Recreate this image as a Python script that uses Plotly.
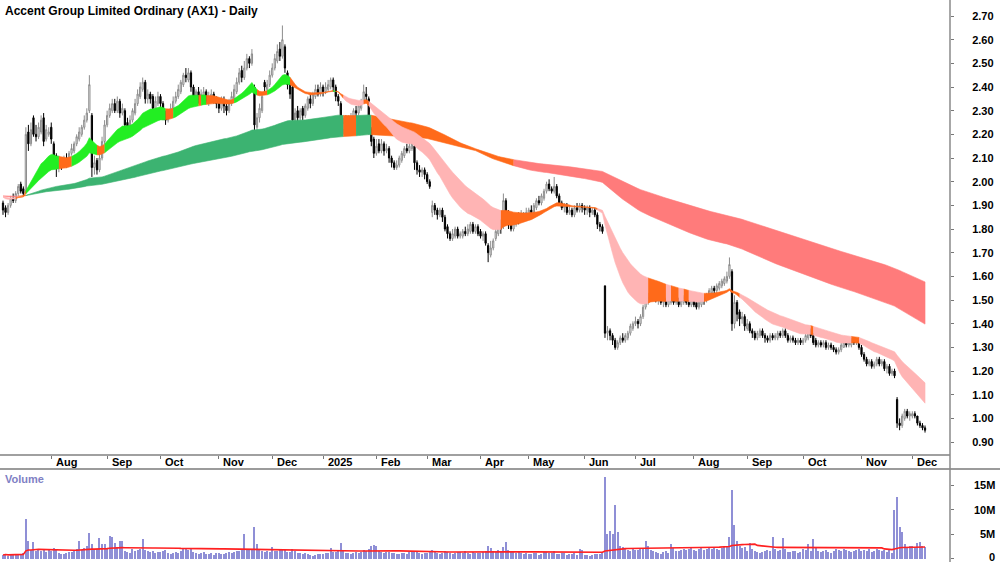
import numpy as np
import pandas as pd
import plotly.graph_objects as go

# ---------------- data ----------------
opens = [
    # Jul 2024
    1.91,1.89,1.87,1.90,1.93,1.92,1.95,1.99,1.97,1.96,2.21,2.16,2.27,2.20,2.19,2.21,2.27,2.18,2.20,
    # Aug 2024
    2.23,2.16,2.11,2.06,2.09,2.07,2.10,2.08,2.12,2.13,2.16,2.18,2.20,2.23,2.26,2.30,2.28,2.06,2.09,2.05,2.10,2.17,
    # Sep 2024
    2.24,2.28,2.30,2.33,2.30,2.34,2.29,2.30,2.25,2.23,2.26,2.29,2.33,2.36,2.39,2.42,2.35,2.37,2.36,2.31,2.33,
    # Oct 2024
    2.36,2.33,2.29,2.26,2.28,2.31,2.34,2.36,2.38,2.41,2.45,2.43,2.46,2.40,2.36,2.38,2.35,2.36,2.38,2.34,2.35,2.37,2.35,
    # Nov 2024
    2.33,2.31,2.34,2.32,2.30,2.33,2.35,2.38,2.42,2.47,2.44,2.48,2.52,2.50,2.40,2.23,2.27,2.30,2.42,2.39,2.41,
    # Dec 2024
    2.45,2.48,2.51,2.56,2.53,2.57,2.46,2.42,2.40,2.26,2.30,2.27,2.31,2.28,2.31,2.35,2.33,2.36,2.39,2.37,
    # Jan 2025
    2.40,2.38,2.39,2.40,2.43,2.40,2.36,2.33,2.22,2.25,2.23,2.25,2.27,2.30,2.29,2.31,2.34,2.37,2.35,2.22,2.18,
    # Feb 2025
    2.12,2.16,2.13,2.16,2.13,2.14,2.10,2.08,2.06,2.07,2.09,2.11,2.14,2.13,2.14,2.15,2.08,2.05,2.04,2.05,
    # Mar 2025
    2.03,2.00,1.87,1.90,1.88,1.86,1.88,1.85,1.81,1.78,1.76,1.77,1.80,1.77,1.77,1.79,1.78,1.79,1.82,1.79,1.81,
    # Apr 2025
    1.79,1.77,1.78,1.73,1.69,1.72,1.76,1.78,1.81,1.81,1.92,1.86,1.85,1.80,1.82,1.85,1.84,1.86,1.85,
    # May 2025
    1.86,1.88,1.87,1.89,1.92,1.91,1.93,1.96,1.99,1.97,1.96,1.98,1.94,1.91,1.89,1.90,1.87,1.88,1.86,1.89,1.88,1.90,
    # Jun 2025
    1.89,1.88,1.89,1.87,1.88,1.86,1.82,1.81,1.56,1.36,1.37,1.35,1.33,1.30,1.32,1.34,1.33,1.34,1.36,1.38,
    # Jul 2025
    1.40,1.41,1.40,1.43,1.47,1.49,1.51,1.55,1.52,1.50,1.51,1.49,1.50,1.48,1.49,1.51,1.49,1.50,1.48,1.49,1.51,1.49,1.48,
    # Aug 2025
    1.50,1.49,1.47,1.48,1.51,1.50,1.51,1.53,1.55,1.54,1.55,1.56,1.57,1.58,1.60,1.62,1.40,1.49,1.45,1.42,1.43,
    # Sep 2025
    1.38,1.40,1.37,1.36,1.34,1.35,1.37,1.35,1.34,1.33,1.35,1.34,1.34,1.36,1.35,1.37,1.35,1.33,1.34,1.33,1.32,1.33,
    # Oct 2025
    1.32,1.33,1.34,1.37,1.35,1.33,1.31,1.32,1.31,1.32,1.30,1.31,1.30,1.29,1.28,1.29,1.30,1.32,1.31,1.31,1.33,1.32,1.33,
    # Nov 2025
    1.30,1.27,1.25,1.23,1.24,1.22,1.23,1.25,1.23,1.24,1.21,1.22,1.19,1.20,1.08,0.98,0.97,1.00,1.03,1.01,
    # Dec 2025
    1.01,1.02,1.01,0.98,0.97,0.96,
]
highs = [
    1.92,1.90,1.91,1.94,1.95,1.96,1.99,2.00,1.98,2.23,2.24,2.25,2.28,2.24,2.25,2.28,2.29,2.24,2.23,
    2.25,2.17,2.12,2.11,2.10,2.11,2.12,2.13,2.16,2.17,2.20,2.23,2.24,2.28,2.31,2.45,2.29,2.11,2.10,2.12,2.19,2.26,
    2.30,2.33,2.35,2.35,2.36,2.35,2.33,2.31,2.27,2.28,2.31,2.35,2.39,2.42,2.44,2.43,2.39,2.38,2.37,2.36,2.38,
    2.37,2.34,2.30,2.30,2.33,2.36,2.38,2.41,2.43,2.46,2.48,2.48,2.47,2.41,2.39,2.40,2.39,2.40,2.39,2.38,2.39,2.38,2.36,
    2.35,2.36,2.36,2.33,2.35,2.38,2.41,2.44,2.48,2.49,2.51,2.54,2.53,2.56,2.41,2.29,2.33,2.37,2.43,2.43,2.47,
    2.50,2.54,2.58,2.59,2.66,2.58,2.47,2.43,2.41,2.31,2.32,2.31,2.32,2.33,2.36,2.37,2.38,2.41,2.41,2.42,
    2.41,2.42,2.43,2.44,2.44,2.41,2.37,2.34,2.27,2.28,2.28,2.29,2.31,2.32,2.33,2.35,2.41,2.40,2.36,2.23,2.19,
    2.18,2.18,2.18,2.17,2.16,2.15,2.11,2.09,2.09,2.11,2.13,2.15,2.16,2.17,2.20,2.16,2.09,2.07,2.06,2.06,
    2.04,2.01,1.92,1.91,1.89,1.89,1.89,1.86,1.82,1.79,1.80,1.81,1.81,1.79,1.80,1.81,1.82,1.83,1.83,1.82,1.82,
    1.80,1.79,1.79,1.74,1.75,1.76,1.80,1.83,1.84,1.95,1.93,1.88,1.86,1.84,1.86,1.87,1.88,1.87,1.89,
    1.89,1.90,1.91,1.93,1.94,1.95,1.97,2.00,2.01,1.98,2.02,1.99,1.95,1.92,1.91,1.91,1.90,1.89,1.90,1.91,1.91,1.91,
    1.90,1.90,1.90,1.89,1.89,1.87,1.83,1.82,1.56,1.39,1.38,1.36,1.34,1.33,1.35,1.36,1.36,1.37,1.40,1.41,
    1.43,1.42,1.44,1.48,1.51,1.53,1.55,1.56,1.53,1.52,1.52,1.51,1.51,1.51,1.52,1.52,1.51,1.51,1.51,1.52,1.52,1.50,1.51,
    1.51,1.50,1.50,1.52,1.52,1.53,1.55,1.56,1.56,1.57,1.58,1.59,1.60,1.62,1.68,1.63,1.52,1.50,1.46,1.45,1.44,
    1.42,1.41,1.38,1.37,1.37,1.38,1.38,1.36,1.35,1.36,1.36,1.36,1.37,1.37,1.38,1.38,1.36,1.35,1.35,1.34,1.34,1.34,
    1.34,1.36,1.38,1.38,1.36,1.34,1.33,1.33,1.33,1.33,1.32,1.32,1.31,1.30,1.30,1.32,1.33,1.33,1.33,1.34,1.34,1.34,1.34,
    1.31,1.28,1.26,1.25,1.25,1.24,1.26,1.26,1.25,1.25,1.23,1.23,1.21,1.21,1.09,1.00,1.02,1.04,1.04,1.03,
    1.03,1.03,1.01,0.99,0.98,0.97,
]
lows = [
    1.86,1.85,1.86,1.89,1.91,1.91,1.94,1.95,1.94,1.95,2.13,2.15,2.19,2.17,2.18,2.20,2.15,2.17,2.19,
    2.16,2.08,2.02,2.04,2.05,2.06,2.06,2.07,2.11,2.12,2.15,2.17,2.19,2.22,2.25,2.29,2.02,2.03,2.03,2.04,2.09,2.16,
    2.23,2.27,2.29,2.29,2.29,2.27,2.28,2.22,2.21,2.22,2.25,2.28,2.32,2.35,2.38,2.33,2.33,2.33,2.30,2.30,2.32,
    2.31,2.26,2.24,2.25,2.27,2.30,2.33,2.35,2.37,2.40,2.42,2.42,2.38,2.34,2.34,2.33,2.34,2.35,2.33,2.32,2.34,2.33,2.31,
    2.29,2.30,2.29,2.28,2.29,2.32,2.34,2.37,2.41,2.42,2.43,2.47,2.48,2.49,2.14,2.20,2.25,2.29,2.38,2.38,2.40,
    2.44,2.47,2.50,2.51,2.52,2.46,2.39,2.35,2.24,2.24,2.25,2.25,2.26,2.27,2.30,2.31,2.32,2.35,2.36,2.36,
    2.36,2.37,2.38,2.39,2.38,2.34,2.32,2.20,2.20,2.20,2.21,2.23,2.25,2.27,2.28,2.30,2.33,2.34,2.20,2.15,2.10,
    2.11,2.12,2.12,2.11,2.12,2.08,2.06,2.05,2.05,2.06,2.08,2.10,2.12,2.12,2.13,2.05,2.03,2.02,2.02,2.01,
    1.99,1.97,1.85,1.86,1.84,1.85,1.83,1.79,1.76,1.75,1.75,1.76,1.76,1.76,1.76,1.77,1.77,1.78,1.78,1.78,1.77,
    1.76,1.75,1.73,1.66,1.68,1.71,1.75,1.77,1.78,1.80,1.82,1.80,1.79,1.79,1.81,1.82,1.83,1.83,1.84,
    1.85,1.86,1.86,1.88,1.90,1.90,1.92,1.95,1.96,1.95,1.95,1.93,1.90,1.88,1.87,1.86,1.86,1.85,1.85,1.87,1.87,1.87,
    1.86,1.86,1.85,1.86,1.85,1.80,1.79,1.78,1.34,1.33,1.33,1.31,1.29,1.29,1.31,1.32,1.32,1.33,1.35,1.37,
    1.39,1.38,1.39,1.42,1.46,1.48,1.50,1.50,1.49,1.48,1.48,1.47,1.47,1.47,1.48,1.48,1.48,1.47,1.47,1.48,1.48,1.47,1.47,
    1.47,1.46,1.46,1.47,1.48,1.49,1.50,1.52,1.52,1.53,1.54,1.55,1.56,1.57,1.59,1.37,1.38,1.41,1.39,1.40,1.37,
    1.37,1.36,1.34,1.33,1.33,1.34,1.34,1.32,1.32,1.32,1.33,1.33,1.33,1.34,1.34,1.34,1.32,1.32,1.32,1.31,1.31,1.31,
    1.31,1.32,1.33,1.34,1.31,1.30,1.30,1.30,1.30,1.29,1.29,1.29,1.28,1.27,1.27,1.28,1.30,1.30,1.30,1.30,1.31,1.31,1.29,
    1.26,1.24,1.22,1.22,1.21,1.21,1.22,1.22,1.22,1.20,1.19,1.18,1.18,1.17,0.96,0.95,0.96,0.99,1.00,0.99,
    1.00,1.00,0.97,0.96,0.95,0.94,
]
closes = [
    1.88,1.87,1.90,1.93,1.92,1.95,1.98,1.96,1.95,2.20,2.16,2.22,2.20,2.19,2.23,2.26,2.17,2.22,2.21,
    2.18,2.10,2.06,2.09,2.07,2.10,2.08,2.12,2.14,2.16,2.19,2.21,2.23,2.26,2.29,2.41,2.06,2.08,2.05,2.10,2.17,2.24,
    2.28,2.31,2.33,2.30,2.34,2.29,2.31,2.24,2.23,2.26,2.30,2.33,2.37,2.40,2.42,2.35,2.37,2.35,2.31,2.34,2.36,
    2.33,2.28,2.26,2.29,2.31,2.34,2.36,2.39,2.42,2.45,2.44,2.46,2.40,2.36,2.38,2.35,2.37,2.38,2.34,2.36,2.37,2.35,2.33,
    2.31,2.34,2.32,2.30,2.33,2.36,2.39,2.42,2.46,2.44,2.48,2.52,2.50,2.54,2.24,2.27,2.31,2.36,2.40,2.41,2.45,
    2.48,2.52,2.55,2.53,2.60,2.48,2.41,2.37,2.26,2.29,2.27,2.30,2.28,2.32,2.35,2.33,2.37,2.39,2.37,2.40,
    2.38,2.40,2.41,2.43,2.40,2.36,2.34,2.22,2.25,2.23,2.26,2.27,2.30,2.29,2.32,2.34,2.38,2.36,2.22,2.17,2.12,
    2.15,2.13,2.16,2.13,2.14,2.10,2.08,2.06,2.07,2.10,2.12,2.14,2.13,2.15,2.16,2.08,2.05,2.04,2.05,2.03,
    2.00,1.98,1.90,1.88,1.86,1.88,1.85,1.80,1.78,1.76,1.78,1.80,1.77,1.78,1.79,1.78,1.80,1.82,1.79,1.81,1.78,
    1.77,1.78,1.74,1.70,1.72,1.75,1.79,1.81,1.80,1.92,1.86,1.84,1.80,1.83,1.85,1.84,1.86,1.85,1.87,
    1.88,1.87,1.90,1.92,1.91,1.94,1.96,1.99,1.97,1.96,1.98,1.94,1.91,1.89,1.90,1.87,1.88,1.86,1.89,1.88,1.90,1.89,
    1.88,1.89,1.87,1.88,1.86,1.82,1.81,1.79,1.36,1.37,1.35,1.33,1.30,1.32,1.34,1.33,1.35,1.36,1.39,1.40,
    1.41,1.40,1.43,1.47,1.50,1.51,1.54,1.51,1.50,1.51,1.49,1.50,1.48,1.50,1.51,1.49,1.50,1.48,1.50,1.51,1.49,1.48,1.50,
    1.48,1.47,1.49,1.51,1.50,1.52,1.54,1.55,1.54,1.56,1.57,1.58,1.59,1.60,1.65,1.40,1.49,1.44,1.42,1.43,1.39,
    1.40,1.37,1.36,1.34,1.36,1.37,1.35,1.34,1.33,1.35,1.34,1.35,1.36,1.35,1.37,1.35,1.33,1.34,1.33,1.32,1.33,1.32,
    1.33,1.35,1.37,1.35,1.32,1.31,1.32,1.31,1.32,1.30,1.31,1.30,1.29,1.28,1.29,1.31,1.32,1.31,1.32,1.33,1.32,1.33,1.30,
    1.27,1.25,1.23,1.24,1.22,1.23,1.25,1.23,1.24,1.21,1.22,1.19,1.20,1.18,0.98,0.97,1.01,1.03,1.01,1.02,
    1.02,1.01,0.98,0.97,0.96,0.95,
]
volume_m = [
    # Jul 2024
    0.7,0.9,0.6,0.8,0.7,1.0,0.8,0.9,1.2,8.0,3.6,1.8,3.3,1.6,2.0,1.5,1.9,1.4,1.7,
    # Aug 2024
    1.5,2.2,1.8,1.2,1.0,0.9,1.1,1.3,1.4,1.6,2.0,3.6,1.8,2.2,2.6,5.3,3.0,2.0,1.9,4.2,2.9,3.0,
    # Sep 2024
    2.0,4.6,4.4,3.2,2.4,3.5,3.6,1.5,1.3,1.2,2.0,1.6,1.8,1.9,4.0,1.8,1.5,1.3,1.6,1.2,1.4,
    # Oct 2024
    1.3,1.5,1.8,1.2,1.0,1.1,1.4,1.2,1.6,2.0,2.1,1.8,1.9,1.4,1.2,1.0,1.1,1.3,0.9,1.0,1.2,0.8,1.1,
    # Nov 2024
    1.2,1.0,0.9,1.1,1.3,1.2,1.4,1.5,1.6,1.8,4.9,1.9,2.0,1.7,6.4,3.0,1.8,1.6,1.4,1.5,1.3,
    # Dec 2024
    2.3,1.6,1.5,1.7,2.0,1.8,1.4,1.3,1.9,1.5,1.2,1.1,1.0,1.2,0.9,0.7,0.6,0.8,0.9,1.0,
    # Jan 2025
    1.0,1.1,1.2,2.2,1.4,1.3,1.5,3.1,1.6,1.2,1.1,1.0,1.2,1.3,1.1,1.4,1.7,1.5,2.0,2.6,2.8,
    # Feb 2025
    2.5,1.5,1.3,1.2,1.4,1.3,1.1,1.2,1.0,0.9,1.1,1.2,1.0,1.4,1.6,1.3,1.5,1.2,1.0,1.1,
    # Mar 2025
    1.2,1.3,1.8,1.4,1.1,1.0,1.2,1.5,1.3,1.1,1.0,1.2,1.4,1.3,1.1,1.5,1.2,1.0,1.3,1.1,1.2,
    # Apr 2025
    1.1,1.3,1.6,2.5,2.2,1.5,1.4,1.7,1.6,2.4,3.4,1.8,1.5,1.4,1.2,1.3,1.1,1.0,1.2,
    # May 2025
    1.0,0.9,1.1,1.2,0.8,1.0,1.3,1.4,1.1,1.2,1.5,1.0,0.9,1.1,1.2,0.8,0.9,1.0,1.1,0.8,1.9,1.7,
    # Jun 2025
    0.8,0.7,0.6,0.8,0.9,1.0,0.9,1.2,16.6,5.0,5.7,5.0,10.9,5.5,2.6,2.3,2.0,1.8,1.6,1.9,
    # Jul 2025
    1.8,1.7,1.9,2.0,3.6,2.5,1.8,1.6,1.4,1.2,1.0,1.3,1.5,1.1,3.0,2.2,1.5,1.6,1.8,2.0,1.7,1.9,2.1,
    # Aug 2025
    1.8,1.6,1.9,2.2,1.7,2.0,2.3,1.9,2.1,2.0,1.8,2.2,2.4,2.6,4.3,14.0,6.8,3.5,2.5,2.2,2.3,
    # Sep 2025
    1.5,3.2,2.0,1.6,1.4,1.2,1.3,1.5,1.8,1.6,4.3,1.9,1.5,1.7,4.2,2.0,1.4,1.3,1.6,1.5,1.2,1.4,
    # Oct 2025
    2.0,1.8,3.0,1.6,4.0,2.2,1.5,1.3,1.6,1.8,1.4,1.2,1.5,1.9,1.7,1.6,2.0,1.8,1.5,1.4,1.6,1.7,2.0,
    # Nov 2025
    1.6,1.8,1.5,1.9,1.4,1.6,2.0,1.7,1.5,1.8,1.3,1.9,1.2,9.8,12.5,6.4,5.4,3.0,2.4,2.6,
    # Dec 2025
    2.5,2.2,3.2,3.4,2.6,2.4,
]
holidays = ["2024-12-25", "2024-12-26", "2025-01-01", "2025-01-27",
            "2025-04-18", "2025-04-21", "2025-04-25", "2025-06-09"]
fast_periods = [20, 24, 28, 32, 36, 40]
slow_periods = [140, 160, 180, 200, 225, 250]
ema_seed = 1.94
slope_lag = 3
volume_ma_window = 60
price_ticks = [round(0.9 + 0.1 * k, 2) for k in range(19)]
volume_ticks = [0, 5, 10, 15]
volume_tick_text = ["0", "5M", "10M", "15M"]

# ---------------- derived ----------------
n = min(len(opens), len(highs), len(lows), len(closes), len(volume_m))
opens, highs, lows, closes = (np.array(a[:n]) for a in (opens, highs, lows, closes))
vol = np.array(volume_m[:n]) * 1e6
idx = np.arange(n)
dates = pd.bdate_range("2024-07-05", periods=n, freq="C", holidays=holidays)

tick_idx, tick_txt = [], []
for i in range(1, n):
    if dates[i].month != dates[i - 1].month:
        tick_idx.append(i)
        tick_txt.append(str(dates[i].year) if dates[i].month == 1 else dates[i].strftime("%b"))


def ema(values, period, seed):
    a = 2.0 / (period + 1)
    out = np.empty(len(values))
    e = seed
    for i, v in enumerate(values):
        e = e + a * (v - e)
        out[i] = e
    return out


def ribbon_traces(periods, colors):
    g = np.array([ema(closes, p, ema_seed) for p in periods])
    up = g.max(axis=0)
    lo = g.min(axis=0)
    d = np.diff(g, axis=0)
    prev = np.concatenate([np.full((len(periods), slope_lag), ema_seed), g[:, :-slope_lag]], axis=1)
    slope = g - prev
    bull = (d < 0).all(axis=0) & (slope > 0).all(axis=0)
    bear = (d > 0).all(axis=0) & (slope < 0).all(axis=0)
    state = np.where(bull, 0, np.where(bear, 2, 1))
    traces = []
    start = 0
    for i in range(1, n + 1):
        if i == n or state[i] != state[start]:
            end = min(i, n - 1)
            seg = np.arange(start, end + 1)
            xs = list(seg) + list(seg[::-1])
            ys = list(up[seg]) + list(lo[seg][::-1])
            col = colors[state[start]]
            traces.append(go.Scatter(x=xs, y=ys, mode="lines", fill="toself",
                                     fillcolor=col, line=dict(color=col, width=0.6),
                                     hoverinfo="skip", showlegend=False))
            start = i
    return traces


fig = go.Figure()
for t in ribbon_traces(slow_periods, ["#3cb371", "#ff6a1a", "#ff7b7b"]):
    fig.add_trace(t)
for t in ribbon_traces(fast_periods, ["#22ee22", "#ff6a1a", "#ffb4b4"]):
    fig.add_trace(t)

fig.add_trace(go.Candlestick(
    x=idx, open=opens, high=highs, low=lows, close=closes,
    increasing=dict(line=dict(color="#8c8c8c", width=1), fillcolor="white"),
    decreasing=dict(line=dict(color="black", width=1), fillcolor="black"),
    whiskerwidth=0, showlegend=False, hoverinfo="skip"))

vol_ma = pd.Series(vol).rolling(volume_ma_window, min_periods=1).mean()
fig.add_trace(go.Bar(x=idx, y=vol, width=0.45, marker=dict(color="#8f8fd6", line=dict(width=0)),
                     xaxis="x2", yaxis="y2", showlegend=False, hoverinfo="skip"))
fig.add_trace(go.Scatter(x=idx, y=vol_ma, mode="lines", line=dict(color="#ff2020", width=1.6),
                         xaxis="x2", yaxis="y2", showlegend=False, hoverinfo="skip"))

W, H = 1000, 562
plot_right = 950
price_bottom_px = 455
vol_top_px = 469
px_per_bar = 2.54
x0 = -3 / px_per_bar
x1 = x0 + plot_right / px_per_bar
p_top = 2.70 + 16 / 236.7
p_bot = 2.70 - (price_bottom_px - 16) / 236.7
v_per_px = 5e6 / 24.5
v_bot = -(H - 558.5) * v_per_px
v_top = (558.5 - vol_top_px) * v_per_px

bold = dict(family="Liberation Sans, Arial, sans-serif", size=11, color="black", weight=700)

fig.update_layout(
    width=W, height=H, margin=dict(l=0, r=W - plot_right, t=0, b=0),
    paper_bgcolor="white", plot_bgcolor="white", showlegend=False, bargap=0,
    font=bold,
    xaxis=dict(domain=[0, 1], range=[x0, x1], tickvals=tick_idx, ticktext=[""] * len(tick_idx),
               ticks="outside", ticklen=3, tickcolor="#777", showgrid=False, zeroline=False,
               showline=False, rangeslider=dict(visible=False), anchor="y", fixedrange=True),
    yaxis=dict(domain=[1 - price_bottom_px / H, 1], range=[p_bot, p_top], side="right",
               tickvals=price_ticks, ticktext=[f"{v:.2f}" for v in price_ticks],
               ticks="outside", ticklen=3, tickcolor="#777", showgrid=False, zeroline=False,
               showline=False, ticklabelstandoff=16, tickfont=bold, anchor="x"),
    xaxis2=dict(domain=[0, 1], range=[x0, x1], showticklabels=False, ticks="", showgrid=False,
                zeroline=False, showline=False, anchor="y2"),
    yaxis2=dict(domain=[0, 1 - vol_top_px / H], range=[v_bot, v_top], side="right",
                tickvals=[v * 1e6 for v in volume_ticks], showticklabels=False,
                ticks="outside", ticklen=3, tickcolor="#777", showgrid=False, zeroline=False,
                showline=False, anchor="x2"),
)

ann = []
ann.append(dict(text="Accent Group Limited Ordinary (AX1) - Daily", x=3 / plot_right, y=1 - 2 / H,
                xref="paper", yref="paper", xanchor="left", yanchor="top", showarrow=False,
                font=dict(bold, size=12)))
ann.append(dict(text="Volume", x=3 / plot_right, y=1 - 479 / H, xref="paper", yref="paper",
                xanchor="left", yanchor="middle", showarrow=False,
                font=dict(bold, size=11, color="#8080c4")))
for ti, tt in zip(tick_idx, tick_txt):
    ann.append(dict(text=tt, x=ti + 1.0, y=1 - 462 / H, xref="x", yref="paper",
                    xanchor="left", yanchor="middle", showarrow=False, font=bold))
for v, t in zip(volume_ticks, volume_tick_text):
    ann.append(dict(text=t, x=997 / plot_right, y=v * 1e6, xref="paper", yref="y2",
                    xanchor="right", yanchor="middle", yshift=(2 if v == 0 else 0),
                    showarrow=False, font=bold))
fig.update_layout(annotations=ann)

shapes = [
    dict(type="line", xref="paper", yref="paper", x0=0, x1=1, y0=1 - price_bottom_px / H,
         y1=1 - price_bottom_px / H, line=dict(color="#a0a0a0", width=2)),
    dict(type="line", xref="paper", yref="paper", x0=0, x1=W / plot_right, y0=1 - vol_top_px / H,
         y1=1 - vol_top_px / H, line=dict(color="#7a7a7a", width=1.5)),
    dict(type="line", xref="paper", yref="paper", x0=1, x1=1, y0=0, y1=1,
         line=dict(color="#8a8a8a", width=1.5)),
]
fig.update_layout(shapes=shapes)

fig.write_html("out.html", config={"displayModeBar": False})
